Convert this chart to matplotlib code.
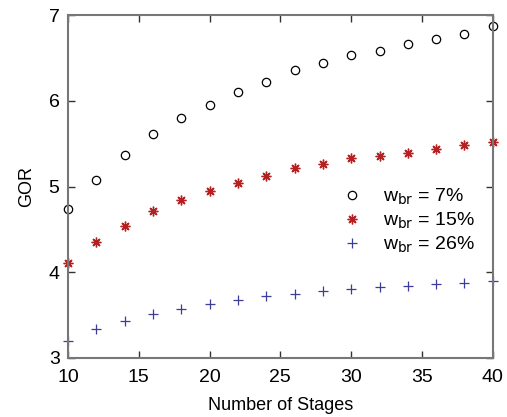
import matplotlib
matplotlib.use('Agg')
import matplotlib.pyplot as plt

plt.rcParams['font.family'] = ['Liberation Sans', 'DejaVu Sans']

stages = [10, 12, 14, 16, 18, 20, 22, 24, 26, 28, 30, 32, 34, 36, 38, 40]
gor_7 = [4.74, 5.08, 5.37, 5.61, 5.80, 5.95, 6.10, 6.22, 6.36, 6.44, 6.53,
         6.58, 6.66, 6.72, 6.78, 6.87]
gor_15 = [4.11, 4.35, 4.54, 4.71, 4.84, 4.95, 5.04, 5.12, 5.22, 5.26, 5.33,
          5.36, 5.39, 5.44, 5.48, 5.52]
gor_26 = [3.20, 3.34, 3.43, 3.51, 3.57, 3.63, 3.68, 3.72, 3.75, 3.78, 3.81,
          3.83, 3.84, 3.86, 3.87, 3.90]

fig = plt.figure(figsize=(5.07, 4.17), dpi=100)
ax = fig.add_axes([0.134, 0.1415, 0.838, 0.8225])

ax.plot(stages, gor_7, 'o', mfc='none', mec='black', ms=6, mew=0.9,
        clip_on=False, label=r'w$_{\rm br}$ = 7%')
ax.plot(stages, gor_15, marker=(8, 2, 0), ls='none', color='#b22222', ms=7,
        mew=1.0, clip_on=False, label=r'w$_{\rm br}$ = 15%')
ax.plot(stages, gor_26, '+', color='#3c3c9a', ms=7, mew=0.9,
        clip_on=False, label=r'w$_{\rm br}$ = 26%')

ax.set_xlim(10, 40)
ax.set_ylim(3, 7)
ax.set_xticks([10, 15, 20, 25, 30, 35, 40])
ax.set_yticks([3, 4, 5, 6, 7])
ax.tick_params(direction='in', top=True, right=True, length=5, width=1,
               labelsize=14, color='#333333')
ax.tick_params(axis='x', pad=8)
ax.tick_params(axis='y', pad=6)
for s in ax.spines.values():
    s.set_color('#777777')
    s.set_linewidth(1.5)

ax.set_xlabel('Number of Stages', fontsize=13, labelpad=8)
ax.set_ylabel('GOR', fontsize=13, labelpad=10)
ax.legend(loc='center left', bbox_to_anchor=(0.6, 0.40), frameon=False,
          fontsize=14, handletextpad=0.6, labelspacing=0.2, borderpad=0)

fig.savefig('out.png', dpi=100)
